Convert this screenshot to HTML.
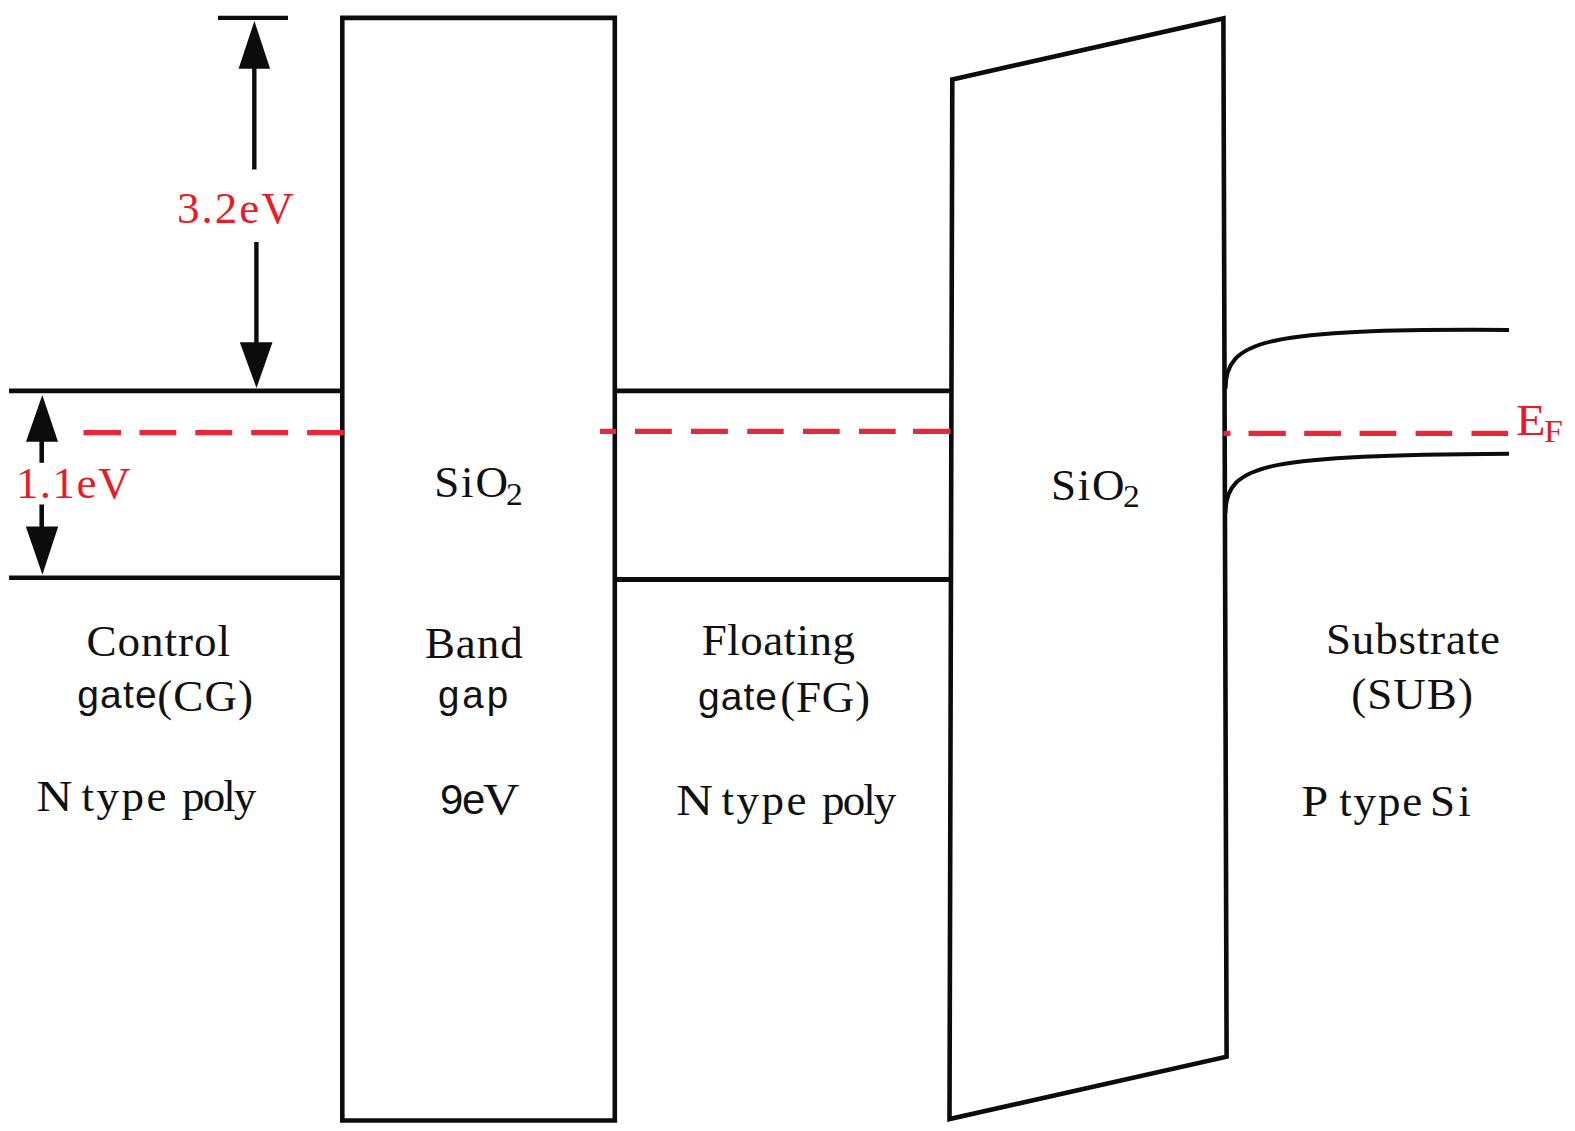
<!DOCTYPE html>
<html>
<head>
<meta charset="utf-8">
<style>
html,body{margin:0;padding:0;background:#fff;width:1575px;height:1131px;overflow:hidden;}
svg{display:block;position:absolute;left:0;top:0;}
text{font-family:"Liberation Serif",serif;}
.k{fill:#111;}
.r{fill:#e81c28;}
</style>
</head>
<body>
<svg width="1575" height="1131" viewBox="0 0 1575 1131">
<g fill="none" stroke="#0c0c0c" stroke-width="4.6">
  <!-- top tick -->
  <line x1="218" y1="17.9" x2="288" y2="17.9" stroke-width="4.2"/>
  <!-- 3.2eV shafts -->
  <line x1="254.3" y1="60" x2="254.3" y2="169.5" stroke-width="4.4"/>
  <line x1="256.4" y1="242" x2="256.4" y2="350" stroke-width="4.4"/>
  <!-- 1.1eV shafts -->
  <line x1="41.7" y1="430" x2="41.7" y2="462.8" stroke-width="4.6"/>
  <line x1="41.7" y1="504.5" x2="41.7" y2="535" stroke-width="4.6"/>
  <!-- left band lines -->
  <line x1="9" y1="390.9" x2="343" y2="390.9" stroke-width="4.9"/>
  <line x1="9" y1="577.8" x2="343" y2="577.8" stroke-width="4.5"/>
  <!-- middle band lines -->
  <line x1="614" y1="390.9" x2="952" y2="390.9" stroke-width="4.9"/>
  <line x1="614" y1="579.4" x2="952" y2="579.4" stroke-width="5"/>
  <!-- box 1 -->
  <path d="M342.3 17.9 H614.8 V1120.5 H342.3 Z" stroke-linejoin="miter"/>
  <!-- box 2 -->
  <path d="M952.3 79.4 L1223.4 18.4 L1226.6 1056.7 L949.5 1119 Z" stroke-linejoin="miter"/>
  <!-- substrate curves -->
  <path d="M1225.5 389 C1225.5 340.4 1262.3 328.4 1509 330" stroke-width="4"/>
  <path d="M1225.5 513 C1225.5 462.7 1268.7 455.5 1509 453.7" stroke-width="4"/>
</g>
<g fill="#0c0c0c" stroke="none">
  <polygon points="254.4,21 238.6,68.8 270.1,68.8"/>
  <polygon points="256.5,388 239.8,342.3 272.5,342.3"/>
  <polygon points="42.3,395 26,441.8 58,441.8"/>
  <polygon points="42.4,574.8 25.8,526.4 58.2,526.4"/>
</g>
<g stroke="#e8283a" stroke-width="5.4" fill="none">
  <path d="M83.5 432.6H121 M139.5 432.6H176.3 M195.3 432.6H232.2 M251.2 432.6H288.1 M307.1 432.6H343.8"/>
  <path d="M600 431.4H616 M635 431.4H671.8 M691 431.4H727.9 M747.2 431.4H783.7 M803 431.4H839.7 M859 431.4H895.7 M913 431.4H950.7"/>
  <path d="M1223.5 433.4H1230.5 M1248.5 433.4H1285.8 M1304.2 433.4H1341 M1359.6 433.4H1396.3 M1415.6 433.4H1452.3 M1471.5 433.4H1508"/>
</g>
<!-- labels -->
<text class="r" x="177.1" y="222.7" style="font-size:45px" textLength="116.6" lengthAdjust="spacing">3.2eV</text>
<text class="r" x="15.9" y="498.0" style="font-size:45px" textLength="114.5" lengthAdjust="spacing">1.1eV</text>
<text class="r" transform="translate(1515.9 434.9) scale(1.075 1)" style="font-size:45px">E</text>
<text class="r" transform="translate(1543.9 441.9) scale(1.062 1)" style="font-size:32px">F</text>
<text class="k" x="86.6" y="655.6" style="font-size:45px" textLength="143.3" lengthAdjust="spacing">Control</text>
<text class="k" x="77.3" y="707.6" style="font-size:39px;font-family:&quot;Liberation Sans&quot;,sans-serif" textLength="79.3" lengthAdjust="spacing">gate</text>
<text class="k" x="157.3" y="711.3" style="font-size:45px" textLength="95.7" lengthAdjust="spacing">(CG)</text>
<text class="k" transform="translate(36.5 811.4) scale(1.106 1)" style="font-size:45px">N</text>
<text class="k" x="81.6" y="811.4" style="font-size:45px" textLength="84.8" lengthAdjust="spacing">type</text>
<text class="k" x="182.1" y="811.4" style="font-size:45px" textLength="74.2" lengthAdjust="spacing">poly</text>
<text class="k" x="434.2" y="497.3" style="font-size:45px" textLength="73.8" lengthAdjust="spacing">SiO</text>
<text class="k" transform="translate(506.1 504.7) scale(1.046 1)" style="font-size:32px">2</text>
<text class="k" x="424.9" y="658.0" style="font-size:45px" textLength="97.8" lengthAdjust="spacing">Band</text>
<text class="k" x="438.0" y="707.5" style="font-size:38.5px;font-family:&quot;Liberation Sans&quot;,sans-serif" textLength="70.1" lengthAdjust="spacing">gap</text>
<text class="k" x="439.9" y="814.2" style="font-size:42px;font-family:&quot;Liberation Sans&quot;,sans-serif" textLength="45.4" lengthAdjust="spacing">9e</text>
<text class="k" transform="translate(483.0 814.3) scale(1.116 1)" style="font-size:45px">V</text>
<text class="k" x="701.7" y="655.4" style="font-size:45px" textLength="153.3" lengthAdjust="spacing">Floating</text>
<text class="k" x="698.1" y="709.6" style="font-size:39px;font-family:&quot;Liberation Sans&quot;,sans-serif" textLength="78.8" lengthAdjust="spacing">gate</text>
<text class="k" x="780.3" y="711.5" style="font-size:45px" textLength="89.7" lengthAdjust="spacing">(FG)</text>
<text class="k" transform="translate(676.2 814.5) scale(1.132 1)" style="font-size:45px">N</text>
<text class="k" x="721.6" y="814.5" style="font-size:45px" textLength="84.8" lengthAdjust="spacing">type</text>
<text class="k" x="822.1" y="814.5" style="font-size:45px" textLength="74.2" lengthAdjust="spacing">poly</text>
<text class="k" x="1050.9" y="499.5" style="font-size:45px" textLength="73.5" lengthAdjust="spacing">SiO</text>
<text class="k" transform="translate(1123.1 506.8) scale(1.046 1)" style="font-size:32px">2</text>
<text class="k" x="1326.0" y="653.6" style="font-size:45px" textLength="174.0" lengthAdjust="spacing">Substrate</text>
<text class="k" x="1351.2" y="709.1" style="font-size:45px" textLength="121.7" lengthAdjust="spacing">(SUB)</text>
<text class="k" transform="translate(1301.6 816.3) scale(1.068 1)" style="font-size:45px">P</text>
<text class="k" x="1339.2" y="816.3" style="font-size:45px" textLength="83.1" lengthAdjust="spacing">type</text>
<text class="k" x="1429.9" y="816.3" style="font-size:45px" textLength="40.9" lengthAdjust="spacing">Si</text>
</svg>
</body>
</html>
